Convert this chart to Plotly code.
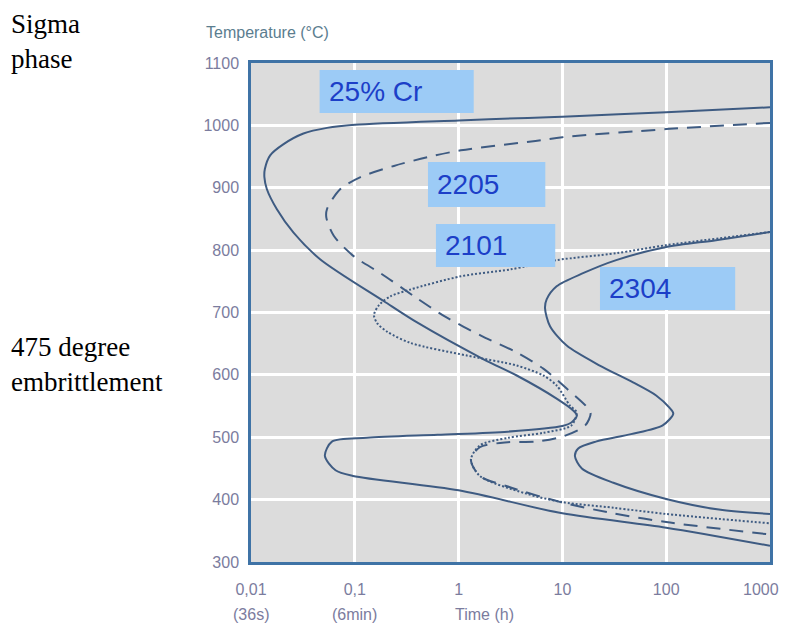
import math
import plotly.graph_objects as go

# ---------------- data (time in h, temperature in °C) ----------------
cr25_time = [1000, 100, 10, 4.65, 1, 0.1, 0.054, 0.032, 0.0206, 0.0153, 0.0136, 0.01346,
             0.0142, 0.0177, 0.0257, 0.0466, 0.191, 0.398, 1.74, 3.63, 8.8, 12.7, 13.8,
             12.3, 10.0, 2.98, 0.627, 0.131, 0.0602, 0.0515, 0.0652, 0.0962, 1, 10, 100, 1000]
cr25_temp = [1029, 1021, 1014, 1012, 1008, 1001, 996, 987, 970, 952, 930, 917,
             898, 866, 828, 785, 718, 684, 625, 599, 562, 543, 535,
             524, 518, 509, 504, 499, 493, 470, 447, 438, 415, 378, 355, 326]

d2205_time = [1000, 100, 10, 5.5, 1.05, 0.501, 0.238, 0.1135, 0.0726, 0.054, 0.0532, 0.0627,
              0.098, 0.177, 0.372, 0.75, 1.64, 3.63, 6.55, 11, 17.1, 18.7, 16.6, 10.4, 5.57,
              2.98, 1.6, 1.315, 1.6, 2.98, 9.6, 31, 100, 1000]
d2205_temp = [1004, 994, 981, 975, 960, 949, 935, 917, 898, 866, 852, 823,
              790, 763, 726, 693, 663, 636, 610, 578, 549, 538, 519, 502, 493,
              492, 484, 464, 438, 421, 396, 378, 364, 344]

d2101_time = [1000, 100, 33, 8.8, 3.13, 1.05, 0.346, 0.221, 0.171, 0.153, 0.164, 0.206, 0.346,
              1.2, 3.63, 6.55, 8.8, 11.8, 13.7, 12.2, 6.5, 2.98, 1.6, 1.315, 1.6, 4.4, 10, 31,
              100, 1000]
d2101_temp = [829, 808, 795, 784, 769, 758, 737, 726, 712, 696, 683, 669, 651,
              631, 615, 599, 583, 551, 540, 519, 507, 499, 487, 464, 438, 410, 396, 387,
              377, 362]

d2304_time = [1000, 302, 100, 33, 15.8, 8.8, 7.05, 6.8, 7.6, 11, 22.9, 47.9, 80, 108, 117,
              92.5, 45.8, 21, 14.2, 13.2, 15.4, 31, 100, 322, 1000]
d2304_temp = [829, 816, 805, 784, 763, 742, 721, 707, 678, 647, 615, 588, 567, 547, 538,
              519, 505, 493, 482, 470, 450, 427, 401, 384, 377]

x_tickvals = [0.01, 0.1, 1, 10, 100, 1000]
x_ticktext = ["0,01", "0,1", "1", "10", "100", "1000"]
y_tickvals = [300, 400, 500, 600, 700, 800, 900, 1000, 1100]

grade_labels = ["25% Cr", "2205", "2101", "2304"]
time_notes = ["(36s)", "(6min)", "Time (h)"]
time_note_pos = [0.01, 0.1, 1.78]

# ---------------- geometry (page pixels; the page body keeps an 8px margin) ----------------
OFF = 8
W, H = 792 - 2 * OFF, 631 - 2 * OFF      # figure fits the window without scrolling
PL, PR, PT, PB = 251, 773, 63, 562       # plot-area edges in page pixels


def px_x(p):
    return (p - PL) / (PR - PL)


def px_y(p):
    return (PB - p) / (PB - PT)


line_col = "#3e5b82"
fig = go.Figure()
series = [
    (cr25_time, cr25_temp, "solid"),
    (d2205_time, d2205_temp, "14px,9px"),
    (d2101_time, d2101_temp, "2px,2px"),
    (d2304_time, d2304_temp, "solid"),
]
for t, T, dash in series:
    fig.add_trace(go.Scatter(x=t, y=T, mode="lines",
                             line=dict(color=line_col, width=2, dash=dash,
                                       shape="spline", smoothing=0.8),
                             showlegend=False, hoverinfo="skip"))

tick_font = dict(family="Liberation Sans, Arial, sans-serif", size=16, color="#7b7c9e")

# the last x tick label would run past the window edge, so it is drawn as a
# right-anchored annotation next to its tick instead
axis_ticktext = x_ticktext[:-1] + [""]

fig.update_xaxes(type="log", range=[-2, 3], tickvals=x_tickvals, ticktext=axis_ticktext,
                 showgrid=True, gridcolor="white", gridwidth=3,
                 showline=True, mirror=True, linecolor="#3f73a6", linewidth=2.5,
                 ticks="", tickfont=tick_font, ticklabelstandoff=11, zeroline=False)
fig.update_yaxes(range=[300, 1100], tickvals=y_tickvals,
                 showgrid=True, gridcolor="white", gridwidth=3,
                 showline=True, mirror=True, linecolor="#3f73a6", linewidth=2.5,
                 ticks="", tickfont=tick_font, ticklabelstandoff=6, zeroline=False)

# label boxes (page pixel extents)
boxes = [(320, 70, 475, 113), (429, 162, 547, 207), (437, 224, 557, 267), (602, 267, 738, 310)]
shapes = []
annotations = []
for (x0, y0, x1, y1), lab in zip(boxes, grade_labels):
    shapes.append(dict(type="rect", xref="paper", yref="paper",
                       x0=px_x(x0), x1=px_x(x1), y0=px_y(y1), y1=px_y(y0),
                       fillcolor="#9ccbf6", line=dict(width=0), layer="above"))
    annotations.append(dict(xref="paper", yref="paper", x=px_x(x0 + 7), y=px_y((y0 + y1) / 2),
                            xanchor="left", yanchor="middle", text=lab, showarrow=False,
                            font=dict(family="Liberation Sans, Arial, sans-serif", size=28,
                                      color="#1c3fc8")))

annotations.append(dict(xref="paper", yref="paper", x=px_x(W + OFF - 1), y=px_y(589),
                        xanchor="right", yanchor="middle", text=x_ticktext[-1],
                        showarrow=False, font=tick_font, borderpad=0))

for note, pos in zip(time_notes, time_note_pos):
    annotations.append(dict(xref="x", yref="paper", x=math.log10(pos), y=px_y(614),
                            xanchor="center", yanchor="middle", text=note, showarrow=False,
                            font=tick_font))

annotations.append(dict(xref="paper", yref="paper", x=px_x(204), y=px_y(32),
                        xanchor="left", yanchor="middle", text="Temperature (°C)",
                        showarrow=False,
                        font=dict(family="Liberation Sans, Arial, sans-serif", size=16,
                                  color="#5b7d8f")))

serif = dict(family="Liberation Serif, Times New Roman, serif", size=27, color="black")
annotations.append(dict(xref="paper", yref="paper", x=px_x(8), y=px_y(7),
                        xanchor="left", yanchor="top", align="left",
                        text="Sigma<br>phase", showarrow=False, font=serif))
annotations.append(dict(xref="paper", yref="paper", x=px_x(8), y=px_y(330),
                        xanchor="left", yanchor="top", align="left",
                        text="475 degree<br>embrittlement", showarrow=False, font=serif))

fig.update_layout(width=W, height=H, autosize=False,
                  margin=dict(l=PL - OFF, r=W - (PR - OFF), t=PT - OFF, b=H - (PB - OFF)),
                  paper_bgcolor="white", plot_bgcolor="#dcdcdc",
                  shapes=shapes, annotations=annotations)

fig.write_html("out.html", config={"displayModeBar": False})
